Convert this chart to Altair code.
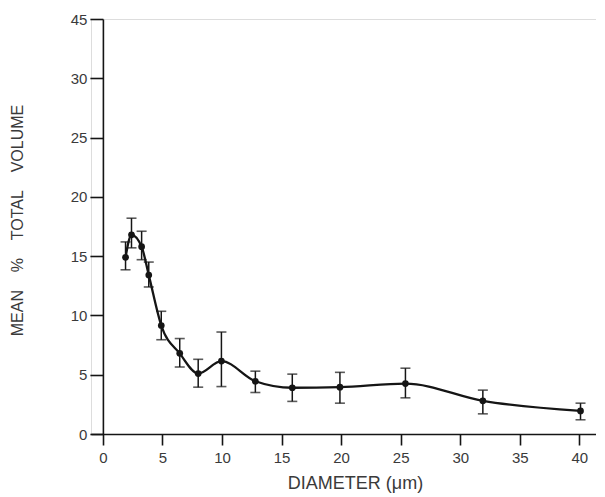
import altair as alt
import pandas as pd

diameter = [1.9, 2.4, 3.25, 3.85, 4.9, 6.45, 8.0, 9.95, 12.8, 15.9, 19.9, 25.4, 31.9, 40.1]
mean_vol = [14.9, 16.8, 15.8, 13.4, 9.15, 6.8, 5.1, 6.15, 4.45, 3.9, 3.95, 4.25, 2.8, 1.95]
err_hi = [16.2, 18.2, 17.1, 14.5, 10.35, 8.05, 6.3, 8.6, 5.3, 5.05, 5.2, 5.55, 3.7, 2.6]
err_lo = [13.85, 15.7, 14.7, 12.4, 7.95, 5.65, 3.95, 4.0, 3.5, 2.75, 2.6, 3.05, 1.7, 1.2]

x_ticks = [0, 5, 10, 15, 20, 25, 30, 35, 40]
y_ticks = [0, 5, 10, 15, 20, 25, 30, 35]

df = pd.DataFrame({"d": diameter, "v": mean_vol, "hi": err_hi, "lo": err_lo})

INK = "#151515"
TXT = "#3a3a3a"
FONT = "Liberation Sans"
NB = "\u00a0"

xs = alt.Scale(domain=[-1, 41.4], nice=False, zero=False)
ys = alt.Scale(domain=[0, 35], nice=False)

xenc = alt.X("d:Q", scale=xs, axis=alt.Axis(
    values=x_ticks, title="DIAMETER" + NB + "(μm)", grid=False, tickSize=11, labelPadding=5,
    domainColor=INK, tickColor=INK, domainWidth=1.6, tickWidth=1.6,
    labelColor=TXT, labelFont=FONT, labelFontSize=15,
    titleColor=TXT, titleFont=FONT, titleFontSize=18, titleFontWeight="normal",
    titleX=264, titleY=49, titleBaseline="middle", titleAnchor="start", titleAlign="center"))
yenc = alt.Y("v:Q", scale=ys, axis=alt.Axis(
    values=y_ticks, title=("MEAN" + NB * 4 + "%" + NB * 4 + "TOTAL" + NB * 4 + "VOLUME"),
    grid=False, tickSize=13, labelPadding=3,
    offset=-11.9,
    labelExpr="datum.value == 35 ? '45' : datum.label",
    domainColor=INK, tickColor=INK, domainWidth=1.6, tickWidth=1.6,
    labelColor=TXT, labelFont=FONT, labelFontSize=15,
    titleColor=TXT, titleFont=FONT, titleFontSize=16, titleFontWeight="normal",
    titleX=-77, titleY=201, titleAnchor="start", titleAlign="center", titleBaseline="bottom"))

base = alt.Chart(df)
line = base.mark_line(color=INK, strokeWidth=2.3, interpolate="monotone").encode(x=xenc, y=yenc)
pts = base.mark_circle(color=INK, size=45, opacity=1).encode(x="d:Q", y="v:Q")
bars = base.mark_rule(color=INK, strokeWidth=1.5).encode(x="d:Q", y="lo:Q", y2="hi:Q")
cap_hi = base.mark_tick(color=INK, orient="horizontal", size=10, thickness=1.6).encode(x="d:Q", y="hi:Q")
cap_lo = base.mark_tick(color=INK, orient="horizontal", size=10, thickness=1.6).encode(x="d:Q", y="lo:Q")

chart = alt.layer(line, bars, cap_hi, cap_lo, pts).properties(
    width=505, height=415,
    autosize=alt.AutoSizeParams(type="none"),
    padding={"left": 83, "top": 11, "right": 0, "bottom": 62},
).configure_view(stroke=None).configure(background="white")

chart.save("out.html", embed_options={"renderer": "svg", "actions": False})
